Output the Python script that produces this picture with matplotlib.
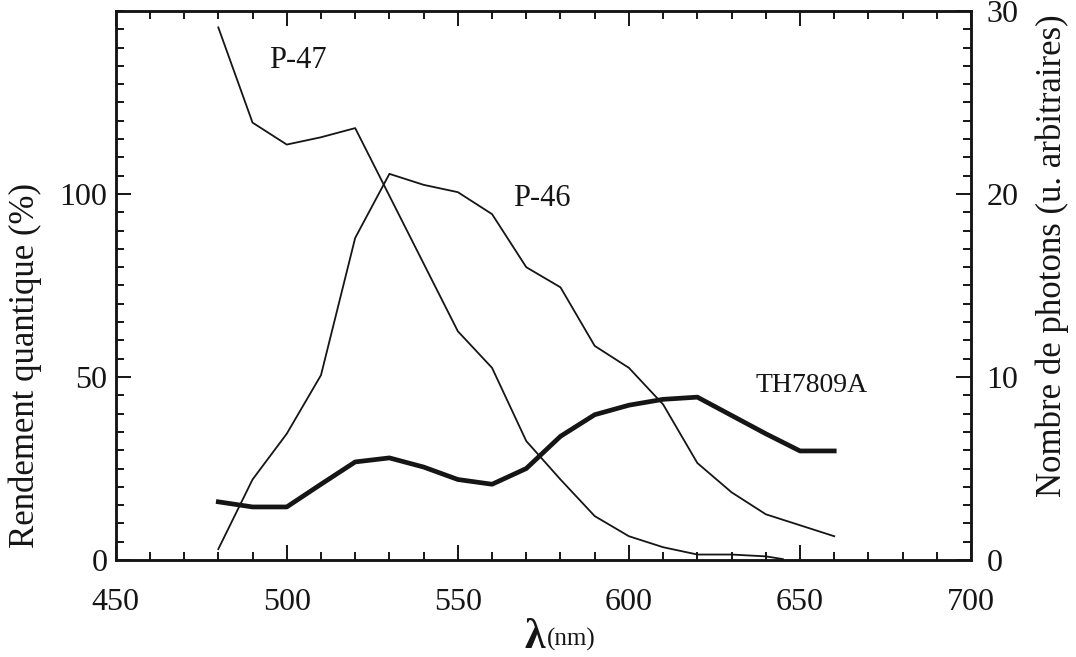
import matplotlib
matplotlib.use("Agg")
import matplotlib.pyplot as plt
from matplotlib.ticker import MultipleLocator

plt.rcParams['font.family'] = ['Liberation Serif', 'DejaVu Serif']

# Data
wl_p47 = [480, 490, 500, 510, 520, 550, 560, 570, 580, 590, 600, 610, 620, 630, 640, 645]
p47 = [29.1, 23.9, 22.7, 23.1, 23.6, 12.5, 10.5, 6.5, 4.4, 2.4, 1.3, 0.7, 0.3, 0.3, 0.2, 0.05]

wl = [480, 490, 500, 510, 520, 530, 540, 550, 560, 570, 580, 590, 600, 610, 620, 630, 640, 650, 660]
p46 = [0.6, 4.4, 6.9, 10.1, 17.6, 21.1, 20.5, 20.1, 18.9, 16.0, 14.9, 11.7, 10.5, 8.5, 5.3, 3.7, 2.5, 1.9, 1.3]
th7809a = [15.9, 14.5, 14.5, 20.7, 26.8, 27.9, 25.4, 22.0, 20.7, 25.0, 33.8, 39.7, 42.3, 43.9, 44.5, 39.5, 34.5, 29.8, 29.8]

x_ticks = [450, 500, 550, 600, 650, 700]
left_ticks = [0, 50, 100]
right_ticks = [0, 10, 20, 30]

ink = '#151515'
fig = plt.figure(figsize=(10.76, 6.57), dpi=100)
ax = fig.add_axes([0.1075, 0.1476, 0.795, 0.8357])
ax2 = ax.twinx()

ax.set_xlim(450, 700)
ax.set_ylim(0, 150)
ax2.set_ylim(0, 30)

ax.plot(wl, th7809a, color=ink, lw=3.4)
ax2.plot(wl_p47, p47, color=ink, lw=1.3)
ax2.plot(wl, p46, color=ink, lw=1.3)

fs = 23
ax.set_xticks(x_ticks)
ax.xaxis.set_minor_locator(MultipleLocator(10))
ax.set_yticks(left_ticks)
ax.yaxis.set_minor_locator(MultipleLocator(5))
ax2.set_yticks(right_ticks)
ax2.yaxis.set_minor_locator(MultipleLocator(1))

ax.tick_params(axis='both', which='both', direction='in', colors=ink, labelsize=fs)
ax.tick_params(axis='x', which='both', top=True, bottom=True)
ax.tick_params(axis='y', which='both', left=True, right=False)
ax.tick_params(which='major', length=11, width=1.4)
ax.tick_params(which='minor', length=6, width=1.4)
ax.tick_params(axis='x', pad=20)
ax.tick_params(axis='y', pad=6)
ax2.tick_params(axis='y', which='both', direction='in', colors=ink, labelsize=fs, pad=11)
ax2.tick_params(which='major', length=11, width=1.4)
ax2.tick_params(which='minor', length=6, width=1.4)

for a in (ax, ax2):
    for s in a.spines.values():
        s.set_linewidth(1.8)
        s.set_color(ink)

ax.set_ylabel('Rendement quantique (%)', fontsize=25, color=ink)
ax.yaxis.set_label_coords(-0.0862, 0.355)
ax2.set_ylabel('Nombre de photons (u. arbitraires)', fontsize=25, color=ink)
ax2.yaxis.set_label_coords(1.0752, 0.554)

ax.text(494.9, 134.5, 'P-47', fontsize=22, color=ink, va='baseline')
ax.text(566.1, 96.8, 'P-46', fontsize=22, color=ink, va='baseline')
ax.text(636.9, 45.9, 'TH7809A', fontsize=20, color=ink, va='baseline')

fig.text(0.5065, 1 - 648 / 657, 'λ', fontsize=30, fontweight='bold', ha='right', va='baseline', color=ink)
fig.text(0.5084, 1 - 646 / 657, '(nm)', fontsize=18, ha='left', va='baseline', color=ink)

fig.savefig('out.png', dpi=100, facecolor='white')
